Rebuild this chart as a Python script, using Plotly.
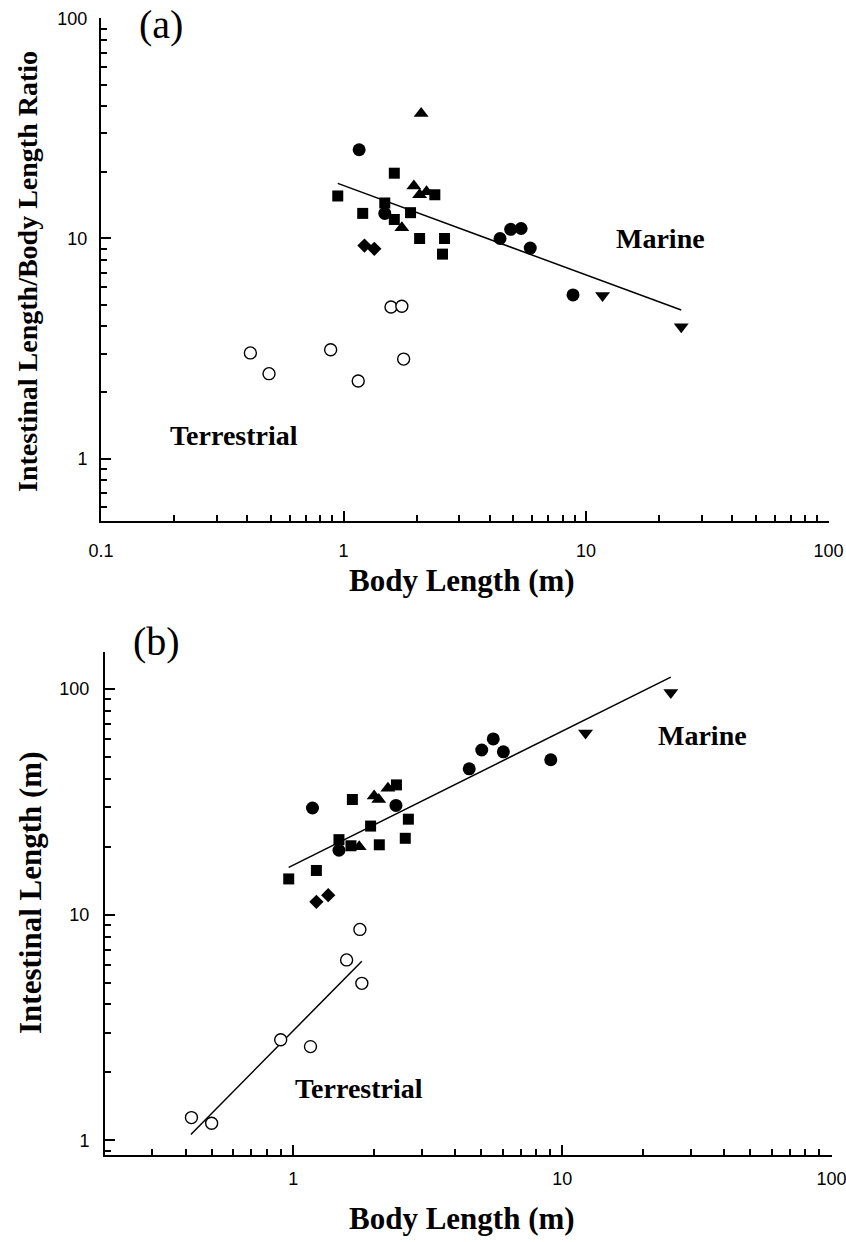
import numpy as np
import plotly.graph_objects as go

# ---------------- Panel (a): ratio vs body length ----------------
a_circle_x = [1.16, 1.48, 4.42, 4.89, 5.40, 5.89, 8.84]
a_circle_y = [25.3, 13.0, 10.0, 11.0, 11.1, 9.04, 5.54]
a_square_x = [0.947, 1.20, 1.48, 1.62, 1.62, 1.89, 2.06, 2.38, 2.61, 2.56]
a_square_y = [15.6, 13.0, 14.5, 19.8, 12.2, 13.1, 10.0, 15.8, 10.0, 8.49]
a_tri_x = [2.09, 1.95, 2.06, 2.20, 1.74]
a_tri_y = [37.0, 17.3, 15.8, 16.3, 11.2]
a_dia_x = [1.22, 1.34]
a_dia_y = [9.28, 8.97]
a_tdown_x = [11.7, 24.7]
a_tdown_y = [5.5, 3.97]
a_open_x = [0.413, 0.493, 0.885, 1.15, 1.57, 1.74, 1.77]
a_open_y = [3.02, 2.43, 3.12, 2.25, 4.88, 4.92, 2.83]
a_fit_x = [0.947, 24.7]
a_fit_y = [17.8, 4.73]

# ---------------- Panel (b): intestinal length vs body length ----------------
b_circle_x = [1.18, 1.48, 2.41, 4.51, 5.02, 5.54, 6.04, 9.06]
b_circle_y = [29.7, 19.3, 30.5, 44.3, 53.7, 60.1, 52.7, 48.6]
b_square_x = [0.963, 1.22, 1.66, 1.48, 1.64, 1.94, 2.09, 2.42, 2.68, 2.61]
b_square_y = [14.4, 15.7, 32.4, 21.5, 20.2, 24.7, 20.4, 37.6, 26.5, 21.8]
b_tri_x = [1.76, 2.00, 2.08, 2.25]
b_tri_y = [20.0, 33.6, 32.4, 36.3]
b_dia_x = [1.22, 1.35]
b_dia_y = [11.4, 12.2]
b_tdown_x = [12.2, 25.3]
b_tdown_y = [63.8, 96.5]
b_open_x = [0.419, 0.498, 0.899, 1.16, 1.58, 1.77, 1.80]
b_open_y = [1.26, 1.19, 2.79, 2.60, 6.3, 8.6, 4.96]
b_fit_marine_x = [0.963, 25.3]
b_fit_marine_y = [16.2, 113.0]
b_fit_terr_x = [0.417, 1.80]
b_fit_terr_y = [1.06, 6.22]

tick_vals_a_x = [0.1, 1, 10, 100]
tick_text_a_x = ["0.1", "1", "10", "100"]
tick_vals_y = [1, 10, 100]
tick_text_y = ["1", "10", "100"]
tick_vals_b_x = [1, 10, 100]
tick_text_b_x = ["1", "10", "100"]

BLACK = "black"
fig = go.Figure()


def add_panel(xa, ya, circ, sq, tri, dia, tdn, opn, fits):
    def mk(x, y, symbol, size, fill=BLACK, lw=0):
        fig.add_trace(go.Scatter(
            x=x, y=y, mode="markers", xaxis=xa, yaxis=ya, showlegend=False,
            marker=dict(symbol=symbol, size=size, color=fill,
                        line=dict(color=BLACK, width=lw))))
    for fx, fy in fits:
        fig.add_trace(go.Scatter(x=fx, y=fy, mode="lines", xaxis=xa, yaxis=ya,
                                 showlegend=False,
                                 line=dict(color=BLACK, width=1.5)))
    mk(*opn, "circle", 12, fill="white", lw=1.4)
    mk(*circ, "circle", 13)
    mk(*sq, "square", 11)
    mk(*tri, "triangle-up", 13)
    mk(*dia, "diamond", 11)
    mk(*tdn, "triangle-down", 13)


add_panel("x", "y",
          (a_circle_x, a_circle_y), (a_square_x, a_square_y),
          (a_tri_x, a_tri_y), (a_dia_x, a_dia_y), (a_tdown_x, a_tdown_y),
          (a_open_x, a_open_y), [(a_fit_x, a_fit_y)])
add_panel("x2", "y2",
          (b_circle_x, b_circle_y), (b_square_x, b_square_y),
          (b_tri_x, b_tri_y), (b_dia_x, b_dia_y), (b_tdown_x, b_tdown_y),
          (b_open_x, b_open_y),
          [(b_fit_marine_x, b_fit_marine_y), (b_fit_terr_x, b_fit_terr_y)])

W, H = 846, 1242
tickfont = dict(family="Liberation Sans, Arial", size=18, color=BLACK)
minor = dict(ticks="inside", ticklen=6, tickwidth=1.5, tickcolor=BLACK,
             dtick="D1", showgrid=False)


def axis(domain, rng, tv, tt, anchor, standoff):
    return dict(type="log", domain=domain, range=rng, anchor=anchor,
                tickmode="array", tickvals=tv, ticktext=tt,
                ticks="inside", ticklen=10, tickwidth=1.5, tickcolor=BLACK,
                showline=True, linecolor=BLACK, linewidth=2, mirror=False,
                showgrid=False, zeroline=False, tickfont=tickfont,
                ticklabelstandoff=standoff, ticklabeloverflow="allow",
                minor=minor)


fig.update_layout(
    width=W, height=H,
    margin=dict(l=0, r=0, t=0, b=0, autoexpand=False),
    paper_bgcolor="white", plot_bgcolor="white",
    xaxis=axis([101 / W, 829 / W], [-1, 2.002], tick_vals_a_x, tick_text_a_x, "y", 12),
    yaxis=axis([1 - 521 / H, 1 - 18 / H], [np.log10(0.52), 2.002], tick_vals_y, tick_text_y, "x", 8),
    xaxis2=axis([105 / W, 832 / W], [np.log10(0.2), 2.002], tick_vals_b_x, tick_text_b_x, "y2", 6),
    yaxis2=axis([1 - 1155 / H, 1 - 652 / H], [np.log10(0.86), np.log10(146)], tick_vals_y, tick_text_y, "x2", 10),
)

serif = "Liberation Serif, Times New Roman"


def ann(text, x, y, size, xref="paper", yref="paper", angle=0):
    return dict(text=text, x=x, y=y, xref=xref, yref=yref, textangle=angle,
                xanchor="center", yanchor="middle", showarrow=False,
                font=dict(family=serif, size=size, color=BLACK))


annotations = [
    ann("<b>Intestinal Length/Body Length Ratio</b>", 28 / W, 1 - 272 / H, 28, angle=-90),
    ann("<b>Body Length (m)</b>", 462 / W, 1 - 580 / H, 31),
    ann("<b>Intestinal Length (m)</b>", 30 / W, 1 - 893 / H, 31, angle=-90),
    ann("<b>Body Length (m)</b>", 462 / W, 1 - 1218 / H, 31),
    ann("(a)", 161 / W, 1 - 25 / H, 40),
    ann("(b)", 156 / W, 1 - 641 / H, 40),
    ann("<b>Marine</b>", np.log10(20.3), np.log10(10.0), 28, "x", "y"),
    ann("<b>Terrestrial</b>", np.log10(0.355), np.log10(1.27), 28, "x", "y"),
    ann("<b>Marine</b>", np.log10(33.2), np.log10(62.2), 28, "x2", "y2"),
    ann("<b>Terrestrial</b>", np.log10(1.76), np.log10(1.69), 28, "x2", "y2"),
]
fig.update_layout(annotations=annotations)

fig.write_html("out.html")
